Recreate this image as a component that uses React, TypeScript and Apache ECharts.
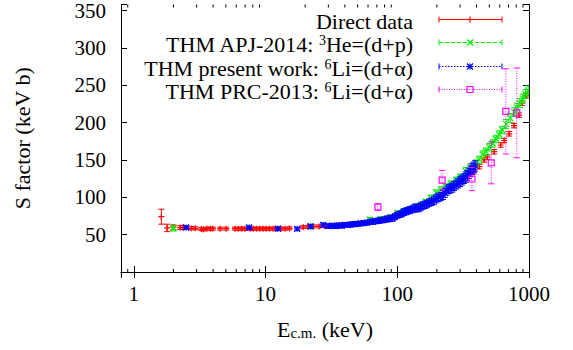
import React, { useEffect, useRef } from 'react';
import * as echarts from 'echarts';

const X_MIN = 0.8;
const X_MAX = 1000;
const Y_MIN = 0;
const Y_MAX = 358;
const Y_INTERVAL = 50;

const xTickValues = [1, 10, 100, 1000];
const yTickValues = [50, 100, 150, 200, 250, 300, 350];
const minorTicksX = [0.9, 2, 3, 4, 5, 6, 7, 8, 9, 20, 30, 40, 50, 60, 70, 80, 90, 200, 300, 400, 500, 600, 700, 800, 900];

// [E (keV), S (keV b), error]
const directData = [
  [1.62, 74, 10], [1.79, 59, 5], [2.0, 60, 3], [2.25, 59.5, 2.5], [2.35, 59.5, 2.5], [2.73, 58.5, 2], [2.93, 58.5, 2],
  [3.26, 57.5, 2], [3.38, 57, 2], [3.59, 58, 2], [3.81, 58, 2], [3.98, 58, 2], [4.53, 58, 2], [5.03, 58, 2],
  [5.87, 58, 2], [6.22, 58, 2], [6.6, 58, 2], [6.98, 58, 2], [7.63, 58, 2], [8.07, 58, 2], [8.54, 58, 2],
  [9.04, 58, 2], [9.57, 58, 2], [10.1, 58, 2], [10.7, 58, 2], [11.4, 58, 2], [12.2, 58, 2], [13.1, 58, 2],
  [14.1, 58, 2], [15.2, 58.5, 2], [19.3, 60, 2], [21, 60.5, 2], [23, 61, 2], [25.5, 61, 2], [28, 61.5, 2],
  [31, 62, 2], [34.5, 62, 2], [39, 62.5, 2], [45, 63.3, 2], [50, 64.5, 2], [57, 66, 2], [63, 67.5, 2],
  [72, 69, 2], [80, 71, 2], [92, 74, 2], [105, 78, 2.5], [122, 83, 2.5], [147, 88, 3], [180, 95, 3],
  [215, 102, 3], [260, 113, 3], [300, 121, 3], [345, 128, 3], [380, 134, 3], [420, 141, 3], [457, 150, 3],
  [484, 154, 3], [544, 161, 3], [610, 170, 3], [648, 176, 3], [707, 185, 3], [770, 196, 3], [840, 210, 3],
  [890, 226, 3], [950, 236, 3],
];

const apj2014Data = [
  [2.0, 58.5, 3.5], [22, 61, 3], [35, 62, 2], [48, 64.5, 2], [62, 70, 3], [75, 71, 3], [88, 73.5, 3],
  [101, 79, 3], [112, 81, 3], [123, 83, 3], [138, 88, 3], [152, 90, 3], [165, 94, 3], [180, 99, 4],
  [197, 106, 4], [215, 110, 4], [235, 114, 4], [255, 118, 4], [279, 123, 4], [300, 127, 4], [331, 135, 5],
  [360, 140, 5], [396, 145, 5], [419, 150, 5], [445, 157, 5], [470, 161, 5], [500, 167, 5], [530, 172, 5],
  [560, 178, 5], [595, 184, 5], [627, 190, 5], [670, 198, 6], [720, 206, 6], [773, 214, 6], [810, 220, 6],
  [850, 226, 6], [895, 232, 6], [940, 238, 6], [985, 243, 6],
];

const presentData = [
  [2.5, 59.5, 2], [7.5, 59.5, 2], [12.4, 58, 2], [17.4, 57.8, 2], [22, 61, 2.5], [27.4, 63, 2.5],
  [30, 61.5, 3], [32, 62, 3], [34, 61.5, 3], [36, 62.5, 3], [38, 62, 3], [40, 63, 3], [42, 63, 3],
  [44, 63.5, 3], [46, 64, 3], [48, 64, 3], [50, 64.5, 3], [53, 65, 3], [56, 65.5, 3], [59, 66, 3],
  [62, 67, 3], [65, 67.5, 3.5], [68, 68, 3.5], [71, 68.5, 3.5], [74, 69, 3.5], [77, 69.5, 3.5], [80, 70, 3.5],
  [84, 71, 4], [88, 71.5, 4], [92, 72, 4], [96, 74, 4], [100, 76, 4], [104, 77, 4], [108, 78, 4],
  [112, 80, 4.5], [116, 81, 4.5], [120, 82, 4.5], [125, 83, 4.5], [130, 84, 4.5], [135, 85, 5], [140, 86, 5],
  [145, 85.5, 5], [150, 87, 5], [156, 89, 5], [162, 90, 5], [168, 91, 5], [175, 93, 5], [182, 94, 5],
  [190, 96, 5.5], [198, 98, 5.5], [206, 100, 5.5], [214, 101, 5.5], [222, 103, 6], [230, 106, 6],
  [238, 109, 6], [246, 111, 6], [254, 112, 6], [262, 113, 6], [270, 115, 6], [280, 117, 6], [290, 119, 6.5],
  [300, 121, 6.5], [310, 123, 6.5], [320, 125, 6.5], [330, 127, 7], [340, 129, 7], [350, 132, 7],
  [360, 135, 7], [370, 138, 7], [380, 140, 7], [390, 142, 7],
];

const prc2013Data = [
  [71.3, 87, 4.5], [219, 123, 13], [369, 124.5, 15.5], [517, 146, 28], [667, 215, 57], [808, 213, 60],
];

const seriesNames = [
  'Direct data',
  'THM APJ-2014: {sup|3}He=(d+p)',
  'THM present work: {sup|6}Li=(d+α)',
  'THM PRC-2013: {sup|6}Li=(d+α)',
];

const FONT = 'Liberation Serif';
const RED = '#ff0000';
const GREEN = '#00ee00';
const BLUE = '#0000ff';
const MAGENTA = '#ff00ff';

type Kind = 'plus' | 'cross' | 'star' | 'square';

function symbolEls(kind: Kind, cx: number, cy: number, color: string): any[] {
  const s = { stroke: color, lineWidth: 1.2, fill: 'none' };
  const r = 3;
  const plus = [
    { type: 'line', shape: { x1: cx - r, y1: cy, x2: cx + r, y2: cy }, style: s },
    { type: 'line', shape: { x1: cx, y1: cy - r, x2: cx, y2: cy + r }, style: s },
  ];
  const cross = [
    { type: 'line', shape: { x1: cx - r, y1: cy - r, x2: cx + r, y2: cy + r }, style: s },
    { type: 'line', shape: { x1: cx - r, y1: cy + r, x2: cx + r, y2: cy - r }, style: s },
  ];
  if (kind === 'plus') return plus;
  if (kind === 'cross') return cross;
  if (kind === 'star') return plus.concat(cross);
  return [{ type: 'rect', shape: { x: cx - 3, y: cy - 3, width: 6, height: 6 }, style: { stroke: color, lineWidth: 1.2, fill: 'none' } }];
}

function makeRender(kind: Kind, color: string, dash: number[] | null) {
  return (params: any, api: any) => {
    const x = api.value(0);
    const y = api.value(1);
    const e = api.value(2);
    const c = api.coord([x, y]);
    const t = api.coord([x, y + e]);
    const b = api.coord([x, y - e]);
    const cap = 3;
    const es: any = { stroke: color, lineWidth: 1 };
    if (dash) es.lineDash = dash;
    const children: any[] = [
      { type: 'line', shape: { x1: c[0], y1: t[1], x2: c[0], y2: b[1] }, style: es },
      { type: 'line', shape: { x1: c[0] - cap, y1: t[1], x2: c[0] + cap, y2: t[1] }, style: { stroke: color, lineWidth: 1 } },
      { type: 'line', shape: { x1: c[0] - cap, y1: b[1], x2: c[0] + cap, y2: b[1] }, style: { stroke: color, lineWidth: 1 } },
      ...symbolEls(kind, c[0], c[1], color),
    ];
    return { type: 'group', children };
  };
}

const minorTickRender = (params: any, api: any) => {
  const x = api.value(0);
  const bot = api.coord([x, Y_MIN]);
  const top = api.coord([x, Y_MAX]);
  const s = { stroke: '#000', lineWidth: 1 };
  return {
    type: 'group',
    children: [
      { type: 'line', shape: { x1: bot[0], y1: bot[1], x2: bot[0], y2: bot[1] - 3 }, style: s },
      { type: 'line', shape: { x1: top[0], y1: top[1], x2: top[0], y2: top[1] + 3 }, style: s },
    ],
  };
};

const legendStyles: { kind: Kind; color: string; dash: number[] | null }[] = [
  { kind: 'plus', color: RED, dash: null },
  { kind: 'cross', color: GREEN, dash: [4, 2] },
  { kind: 'star', color: BLUE, dash: [1.5, 1.5] },
  { kind: 'square', color: MAGENTA, dash: [1, 1.5] },
];

export default function App() {
  const ref = useRef<HTMLDivElement>(null);
  useEffect(() => {
    if (!ref.current) return;
    const chart = echarts.init(ref.current, null, { renderer: 'svg' });

    const legendRowY = [19.5, 42.5, 66.5, 89.5];
    const graphics: any[] = [];
    seriesNames.forEach((name, i) => {
      const st = legendStyles[i];
      const y = legendRowY[i];
      graphics.push({
        type: 'text',
        x: 413,
        y: y + 2,
        style: {
          text: name,
          align: 'right',
          verticalAlign: 'middle',
          fontFamily: FONT,
          fontSize: 22,
          lineHeight: 22,
          fill: '#000',
          rich: {
            sup: { fontFamily: FONT, fontSize: 14, lineHeight: 10, verticalAlign: 'top', fill: '#000' },
          },
        },
      });
      const ls: any = { stroke: st.color, lineWidth: 1 };
      if (st.dash) ls.lineDash = st.dash;
      graphics.push({ type: 'line', shape: { x1: 439, y1: y, x2: 502, y2: y }, style: ls });
      graphics.push({ type: 'line', shape: { x1: 439, y1: y - 3, x2: 439, y2: y + 3 }, style: { stroke: st.color, lineWidth: 1 } });
      graphics.push({ type: 'line', shape: { x1: 502, y1: y - 3, x2: 502, y2: y + 3 }, style: { stroke: st.color, lineWidth: 1 } });
      symbolEls(st.kind, 470, y, st.color).forEach((el) => graphics.push(el));
    });

    const axisLine = { show: true, lineStyle: { color: '#000', width: 1 } };
    const xFormatter = (v: number) => {
      const hit = xTickValues.find((t) => Math.abs(t - v) / t < 1e-6);
      return hit !== undefined ? String(hit) : '';
    };
    const yFormatter = (v: number) => (yTickValues.indexOf(v) >= 0 ? String(v) : '');

    chart.setOption({
      animation: false,
      backgroundColor: '#fff',
      textStyle: { fontFamily: FONT },
      grid: { left: 121, right: 44, top: 3, bottom: 78 },
      graphic: graphics,
      xAxis: [
        {
          type: 'log',
          logBase: 10,
          min: X_MIN,
          max: X_MAX,
          position: 'bottom',
          axisLine,
          axisTick: { show: true, inside: true, length: 6, lineStyle: { color: '#000' } },
          splitLine: { show: false },
          axisLabel: { formatter: xFormatter, fontFamily: FONT, fontSize: 21, color: '#000', margin: 11 },
          name: 'E{sub|c.m.} (keV)',
          nameLocation: 'middle',
          nameGap: 46,
          nameTextStyle: {
            fontFamily: FONT,
            fontSize: 22,
            lineHeight: 22,
            color: '#000',
            rich: { sub: { fontFamily: FONT, fontSize: 15, lineHeight: 10, verticalAlign: 'bottom', color: '#000' } },
          },
        },
        {
          type: 'log',
          logBase: 10,
          min: X_MIN,
          max: X_MAX,
          position: 'top',
          axisLine,
          axisTick: { show: true, inside: true, length: 6, lineStyle: { color: '#000' } },
          splitLine: { show: false },
          axisLabel: { show: false },
        },
      ],
      yAxis: [
        {
          type: 'value',
          min: Y_MIN,
          max: Y_MAX,
          interval: Y_INTERVAL,
          position: 'left',
          axisLine,
          axisTick: { show: true, inside: true, length: 6, lineStyle: { color: '#000' } },
          splitLine: { show: false },
          axisLabel: { formatter: yFormatter, fontFamily: FONT, fontSize: 21, color: '#000', margin: 15 },
          name: 'S factor (keV b)',
          nameLocation: 'middle',
          nameRotate: 90,
          nameGap: 88,
          nameTextStyle: { fontFamily: FONT, fontSize: 22, color: '#000' },
        },
        {
          type: 'value',
          min: Y_MIN,
          max: Y_MAX,
          interval: Y_INTERVAL,
          position: 'right',
          axisLine,
          axisTick: { show: true, inside: true, length: 6, lineStyle: { color: '#000' } },
          splitLine: { show: false },
          axisLabel: { show: false },
        },
      ],
      series: [
        {
          type: 'custom',
          name: 'minor',
          silent: true,
          renderItem: minorTickRender,
          data: minorTicksX.map((v) => [v, 1]),
          encode: { x: 0, y: 1 },
          clip: false,
        },
        {
          type: 'custom',
          name: 'Direct data',
          renderItem: makeRender('plus', RED, null),
          data: directData,
          encode: { x: 0, y: 1 },
          clip: true,
        },
        {
          type: 'custom',
          name: 'THM APJ-2014',
          renderItem: makeRender('cross', GREEN, [4, 2]),
          data: apj2014Data,
          encode: { x: 0, y: 1 },
          clip: true,
        },
        {
          type: 'custom',
          name: 'THM present work',
          renderItem: makeRender('star', BLUE, [1.5, 1.5]),
          data: presentData,
          encode: { x: 0, y: 1 },
          clip: true,
        },
        {
          type: 'custom',
          name: 'THM PRC-2013',
          renderItem: makeRender('square', MAGENTA, [1, 1.5]),
          data: prc2013Data,
          encode: { x: 0, y: 1 },
          clip: true,
        },
      ],
    });
    return () => chart.dispose();
  }, []);

  return <div ref={ref} style={{ position: 'absolute', left: 0, top: 0, width: 573, height: 350 }} />;
}
